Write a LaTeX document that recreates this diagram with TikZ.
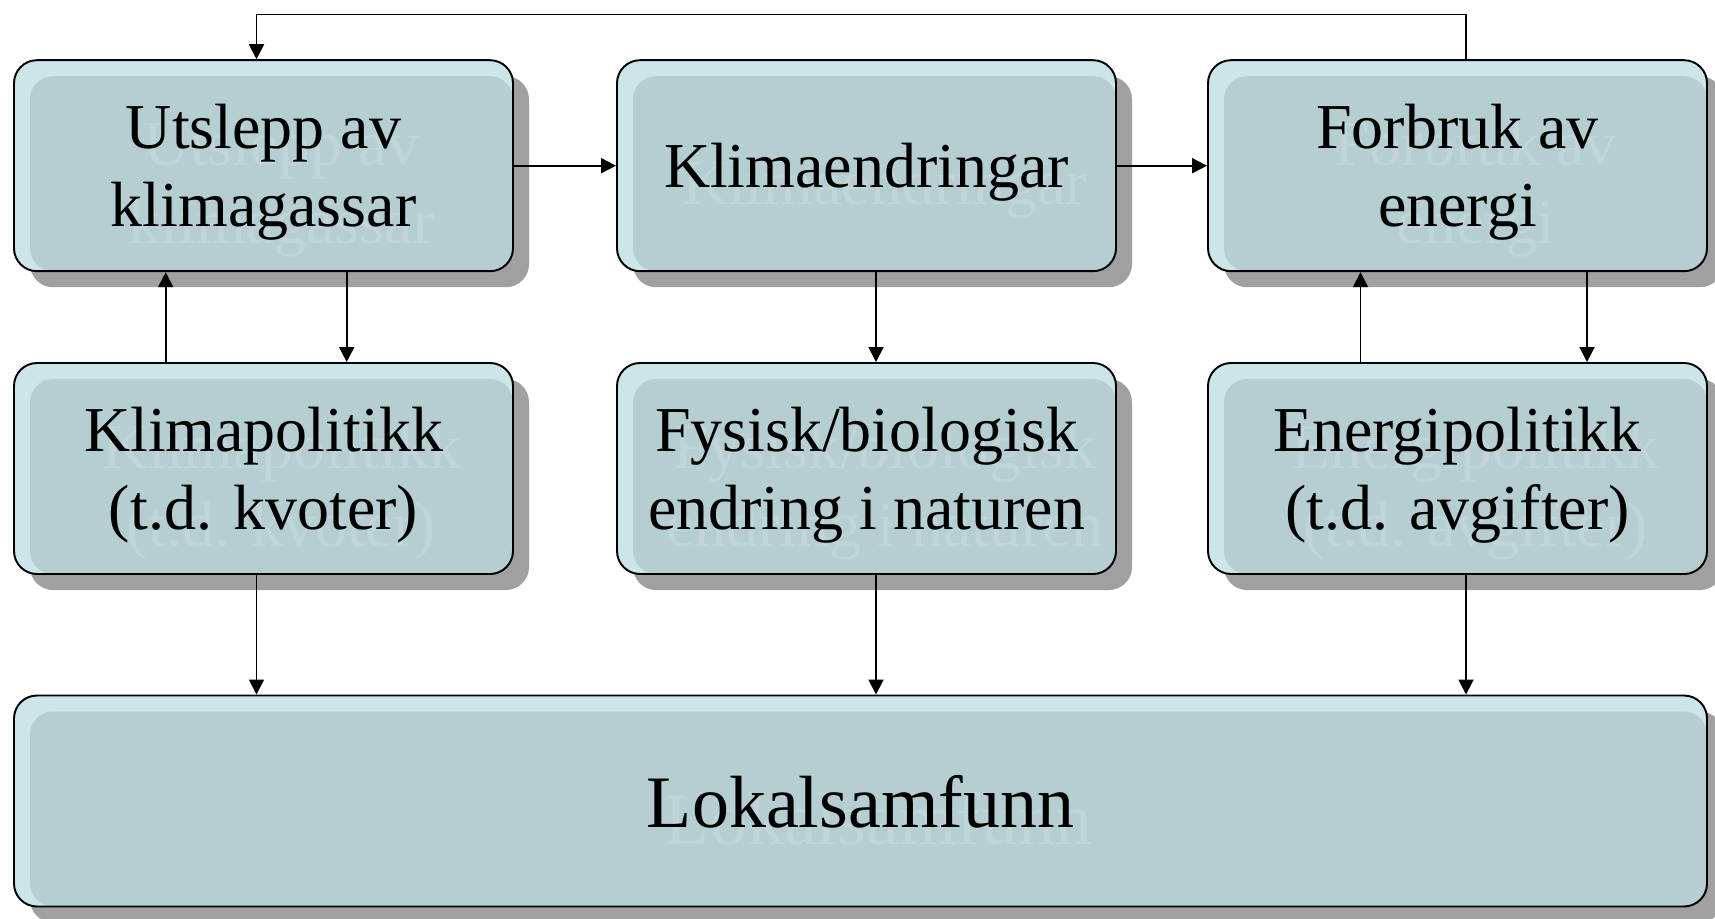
\documentclass[tikz,border=0pt]{standalone}
\usepackage{fontspec}
\setmainfont{Liberation Serif}
\usetikzlibrary{arrows.meta,shadows}

\definecolor{bandfill}{RGB}{204,229,233}
\definecolor{innerfill}{RGB}{180,206,210}
\definecolor{shadowgray}{RGB}{160,160,160}
\definecolor{ghostcol}{RGB}{191,213,217}

\tikzset{
  box/.style={draw=black, line width=1.1pt, rounded corners=0.46cm, fill=bandfill,
    minimum width=9.98cm, minimum height=4.22cm, inner sep=0pt, align=center,
    text depth=0pt, font=\fontsize{36.4}{44.4}\selectfont,
    drop shadow={shadow xshift=0.32cm, shadow yshift=-0.32cm, fill=shadowgray, opacity=1}},
  ghosttxt/.style={text=ghostcol, align=center, text depth=0pt, inner sep=0pt},
  panel/.style={box, path picture={
      \fill[innerfill, rounded corners=0.46cm]
        ([shift={(0.32cm,-0.32cm)}]path picture bounding box.north west)
        rectangle (path picture bounding box.south east);
      \node[ghosttxt] at ([shift={(0.36cm,-0.34cm)}]path picture bounding box.center) {#1};}},
  arr/.style={line width=1pt, -{Triangle[length=0.3cm,width=0.3cm]}}
}

\begin{document}
\begin{tikzpicture}
  \useasboundingbox (0,0) rectangle (34.3,-18.36);

  \node [panel={Utslepp av\\klimagassar}] (utslepp) at (5.27,-3.314) {Utslepp av\\klimagassar};
  \node [panel={Klimaendringar}] (klima) at (17.33,-3.314) {Klimaendringar};
  \node [panel={Forbruk av\\energi}] (forbruk) at (29.15,-3.314) {Forbruk av\\energi};

  \node [panel={Klimapolitikk\\(t.d. kvoter)}] (klimapol) at (5.27,-9.37) {Klimapolitikk\\(t.d. kvoter)};
  \node [panel={Fysisk/biologisk\\endring i naturen}] (natur) at (17.33,-9.37) {Fysisk/biologisk\\endring i naturen};
  \node [panel={Energipolitikk\\(t.d. avgifter)}] (energipol) at (29.15,-9.37) {Energipolitikk\\(t.d. avgifter)};

  \node [panel={Lokalsamfunn}, minimum width=33.86cm, font=\fontsize{42.1}{50}\selectfont]
    (lokal) at (17.21,-16.02) {Lokalsamfunn};

  % x positions of the vertical connectors
  \coordinate (xl) at (5.13,0);
  \coordinate (xm) at (17.52,0);
  \coordinate (xr) at (29.32,0);
  \coordinate (xa) at (3.314,0);
  \coordinate (xb) at (6.934,0);
  \coordinate (xc) at (27.21,0);
  \coordinate (xd) at (31.74,0);
  \coordinate (top) at (0,-0.29);

  \draw [arr] (utslepp.east) -- (klima.west);
  \draw [arr] (klima.east) -- (forbruk.west);
  \draw [arr] (forbruk.north -| xr) |- (top -| xl) -- (utslepp.north -| xl);

  \draw [arr] (utslepp.south -| xb) -- (klimapol.north -| xb);
  \draw [arr] (klimapol.north -| xa) -- (utslepp.south -| xa);
  \draw [arr] (klima.south -| xm) -- (natur.north -| xm);
  \draw [arr] (energipol.north -| xc) -- (forbruk.south -| xc);
  \draw [arr] (forbruk.south -| xd) -- (energipol.north -| xd);

  \draw [arr] (klimapol.south -| xl) -- (lokal.north -| xl);
  \draw [arr] (natur.south -| xm) -- (lokal.north -| xm);
  \draw [arr] (energipol.south -| xr) -- (lokal.north -| xr);
\end{tikzpicture}
\end{document}
